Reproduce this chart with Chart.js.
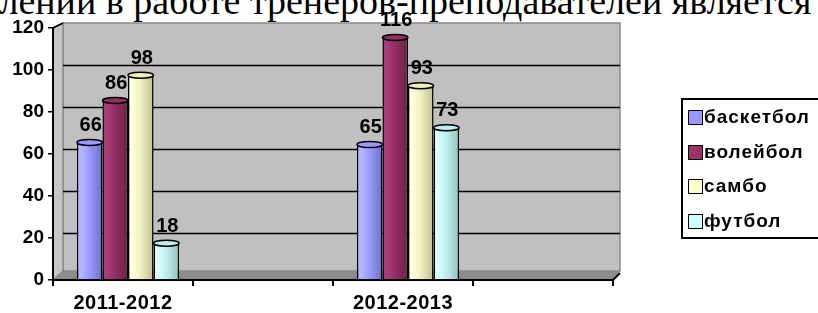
<!DOCTYPE html>
<html><head><meta charset="utf-8">
<script src="https://cdn.jsdelivr.net/npm/chart.js@4"></script>
<style>
html,body{margin:0;padding:0;background:#fff;width:818px;height:313px;overflow:hidden;position:relative}
#bgtext{position:absolute;left:-18px;top:-18px;font-family:'Liberation Serif','Times New Roman',serif;font-size:38px;line-height:38px;white-space:nowrap;color:#000}
#wrap{position:absolute;left:0;top:0;width:818px;height:313px}
#legend{position:absolute;left:681px;top:98px;width:140px;height:141px;border:2px solid #000;box-sizing:border-box;font-family:'Liberation Sans',Arial,sans-serif;font-weight:bold;font-size:19px;letter-spacing:1px;color:#000}
.item{position:absolute;left:5px;height:22px;line-height:22px;white-space:nowrap}
.sw{display:inline-block;width:15px;height:15px;border:1.5px solid #000;box-sizing:border-box;vertical-align:-2px;margin-right:1px}
</style></head><body>
<div id="bgtext">влении в работе тренеров-преподавателей является</div>
<div id="wrap"><canvas id="c" width="818" height="313"></canvas></div>
<div id="legend"></div>
<script>
// ---- data ----
const categories = ['2011-2012', '', '2012-2013', ''];
const seriesNames = ['баскетбол', 'волейбол', 'самбо', 'футбол'];
const basketball = [66, null, 65, null];
const volleyball = [86, null, 116, null];
const sambo = [98, null, 93, null];
const football = [18, null, 73, null];
const yTicks = [0, 20, 40, 60, 80, 100, 120];

// ---- style ----
const swatch = ['#9999FF', '#993366', '#FFFFCC', '#CCFFFF'];
const shades = [
  ['#b4b4ff', '#9999ff', '#5f5fae'],
  ['#a83c76', '#932f62', '#5a1d3c'],
  ['#ffffdc', '#eeeebe', '#aeae86'],
  ['#dcffff', '#c0eeee', '#86aeae']
];
const CAT_PCT = 0.73;
const SHIFT = 5;

// legend
const lg = document.getElementById('legend');
seriesNames.forEach((n, i) => {
  const d = document.createElement('div');
  d.className = 'item';
  d.style.top = (6 + i * 34.5) + 'px';
  d.innerHTML = '<span class="sw" style="background:' + swatch[i] + '"></span>' + n;
  lg.appendChild(d);
});

function barFill(i) {
  const [light, base, dark] = shades[i];
  return (c) => {
    const chart = c.chart, xs = chart.scales && chart.scales.x;
    if (!xs || c.type !== 'data' || !chart.chartArea) return base;
    const catW = (xs.right - xs.left) / categories.length;
    const groupW = catW * CAT_PCT, barW = groupW / seriesNames.length;
    const cx = xs.getPixelForValue(c.dataIndex);
    const x0 = cx - groupW / 2 + barW * c.datasetIndex + SHIFT;
    const g = chart.ctx.createLinearGradient(x0, 0, x0 + barW, 0);
    g.addColorStop(0, light); g.addColorStop(0.3, base); g.addColorStop(1, dark);
    return g;
  };
}

const wallPlugin = {
  id: 'wall',
  beforeDraw(chart) {
    const { ctx, chartArea: a, scales: { y } } = chart;
    ctx.save();
    ctx.beginPath();
    ctx.moveTo(a.left + 10, a.top - 5); ctx.lineTo(a.right + 7, a.top - 5);
    ctx.lineTo(a.right + 7, a.bottom - 9); ctx.lineTo(a.left + 10, a.bottom - 9); ctx.closePath();
    ctx.fillStyle = '#c0c0c0'; ctx.fill();
    ctx.strokeStyle = '#8a8a8a'; ctx.lineWidth = 1.5; ctx.stroke();
    ctx.beginPath();
    ctx.moveTo(a.left, a.top); ctx.lineTo(a.left + 10, a.top - 5);
    ctx.lineTo(a.left + 10, a.bottom - 9); ctx.lineTo(a.left, a.bottom); ctx.closePath();
    ctx.fillStyle = '#c6c6c6'; ctx.fill(); ctx.stroke();
    ctx.beginPath();
    ctx.moveTo(a.left, a.bottom); ctx.lineTo(a.left + 10, a.bottom - 9);
    ctx.lineTo(a.right + 7, a.bottom - 9); ctx.lineTo(a.right, a.bottom); ctx.closePath();
    ctx.fillStyle = '#8c8c8c'; ctx.fill();
    ctx.strokeStyle = '#000'; ctx.lineWidth = 1.6;
    yTicks.filter(v => v > 0 && v < 120).forEach(v => {
      const yy = Math.round(y.getPixelForValue(v) - 5) + 0.5;
      ctx.beginPath(); ctx.moveTo(a.left + 10, yy); ctx.lineTo(a.right + 7, yy); ctx.stroke();
    });
    ctx.restore();
  },
  beforeDatasetsDraw(chart) {
    chart.ctx.save();
    chart.ctx.translate(SHIFT, 0);
  },
  afterDatasetsDraw(chart) {
    const ctx = chart.ctx;
    ctx.restore();
    ctx.save();
    ctx.font = 'bold 20px "Liberation Sans", Arial, sans-serif';
    ctx.fillStyle = '#000';
    ctx.textAlign = 'center';
    ctx.textBaseline = 'bottom';
    chart.data.datasets.forEach((ds, di) => {
      const meta = chart.getDatasetMeta(di);
      meta.data.forEach((el, i) => {
        const v = ds.data[i];
        if (v == null) return;
        const x = el.x + SHIFT, w = el.width;
        ctx.beginPath();
        ctx.ellipse(x, el.y + 1, w / 2, 3, 0, 0, Math.PI * 2);
        ctx.fillStyle = shades[di][1];
        ctx.fill();
        ctx.lineWidth = 1.5; ctx.strokeStyle = '#000'; ctx.stroke();
        ctx.fillStyle = '#000';
        ctx.fillText(String(v), x + 1, el.y - 6);
      });
    });
    ctx.restore();
    ctx.letterSpacing = '0.5px';
  },
  afterDraw(chart) {
    const { ctx, chartArea: a } = chart;
    ctx.letterSpacing = '0px';
    ctx.save();
    ctx.strokeStyle = '#000'; ctx.lineWidth = 2;
    ctx.beginPath(); ctx.moveTo(a.right, a.bottom); ctx.lineTo(a.right + 7, a.bottom - 7); ctx.stroke();
    ctx.lineWidth = 1.5;
    ctx.beginPath(); ctx.moveTo(a.left, a.top); ctx.lineTo(a.left + 10, a.top - 5); ctx.stroke();
    ctx.restore();
  }
};

const datasets = [basketball, volleyball, sambo, football].map((d, i) => ({
  label: seriesNames[i],
  data: d,
  backgroundColor: barFill(i),
  borderColor: '#000',
  borderWidth: 1.5,
  borderSkipped: 'bottom',
  categoryPercentage: CAT_PCT,
  barPercentage: 1.0
}));

Chart.defaults.font.family = '"Liberation Sans", Arial, sans-serif';
Chart.defaults.color = '#000';

new Chart(document.getElementById('c'), {
  type: 'bar',
  data: { labels: categories, datasets },
  options: {
    responsive: false,
    animation: false,
    events: [],
    layout: { padding: { top: 28, right: 205, left: 0, bottom: 0 } },
    plugins: { legend: { display: false }, tooltip: { enabled: false } },
    scales: {
      x: {
        offset: true,
        grid: { offset: true, drawOnChartArea: false, tickLength: 6, color: '#000', lineWidth: 2 },
        border: { display: true, color: '#000', width: 2 },
        ticks: { font: { size: 20, weight: 'bold' }, padding: 5, maxRotation: 0, autoSkip: false, z: 1 },
        afterFit: s => { s.height = 33; }
      },
      y: {
        min: 0, max: 120,
        afterBuildTicks: s => { s.ticks = yTicks.map(v => ({ value: v })); },
        grid: { drawOnChartArea: false, tickLength: 5, color: '#000', lineWidth: 1.5 },
        border: { display: true, color: '#000', width: 2 },
        ticks: { font: { size: 19, weight: 'bold' }, padding: 4 },
        afterFit: s => { s.width = 53; }
      }
    }
  },
  plugins: [wallPlugin]
});
</script>
</body></html>
